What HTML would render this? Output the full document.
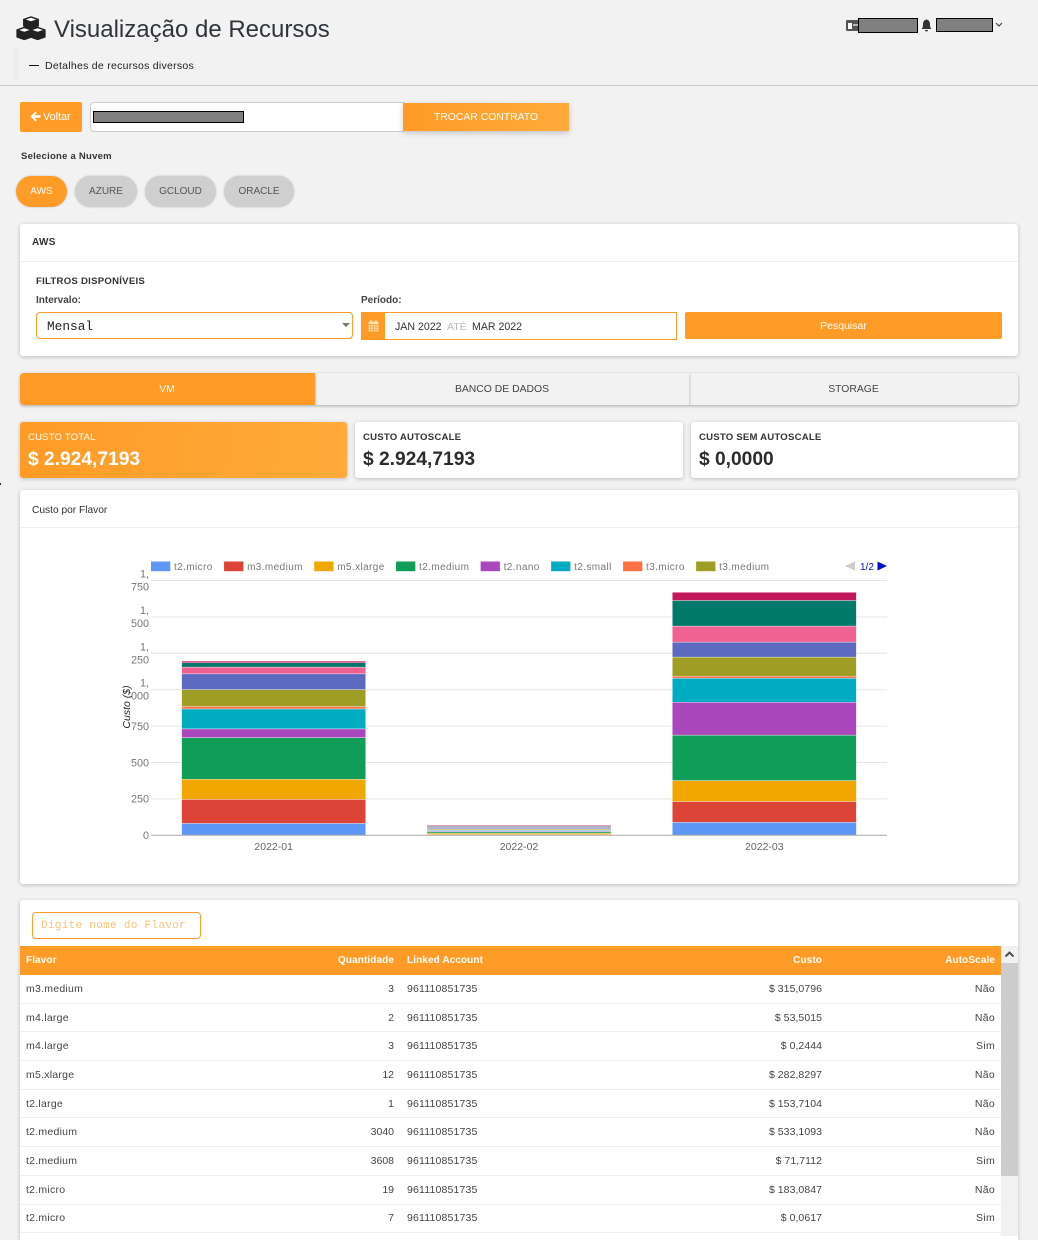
<!DOCTYPE html>
<html lang="pt">
<head>
<meta charset="utf-8">
<title>Visualização de Recursos</title>
<style>
html,body{margin:0;padding:0;}
body{width:1038px;height:1236px;overflow:hidden;background:#f2f2f2;position:relative;font-family:"Liberation Sans",Arial,sans-serif;color:#333;}
.a{position:absolute;box-sizing:border-box;}
.t{position:absolute;white-space:nowrap;line-height:14px;height:14px;}
.card{position:absolute;box-sizing:border-box;background:#fff;border-radius:3px;box-shadow:0 1px 4px rgba(0,0,0,.22);}
.redact{position:absolute;box-sizing:border-box;background:#808080;border:1px solid #000;}
.pill{position:absolute;box-sizing:border-box;top:176px;height:31px;border-radius:16px;background:#cfcfcf;color:#555;font-size:10px;line-height:32px;text-align:center;box-shadow:0 0 2px rgba(0,0,0,.2);}
.tab{position:absolute;box-sizing:border-box;top:373px;height:32px;line-height:33px;text-align:center;font-size:10.4px;color:#444;background:#f2f2f2;box-shadow:0 1px 3px rgba(0,0,0,.3);}
.lbl{font-size:9.6px;letter-spacing:.2px;font-weight:700;}
.val{font-size:19.2px;font-weight:700;color:#2c2c2c;}
.row{position:absolute;left:20px;width:981px;height:28.7px;border-bottom:1px solid #f0f0f0;font-size:10.5px;color:#444;box-sizing:border-box;}
.row span,.head span{position:absolute;top:50%;margin-top:-7px;line-height:14px;white-space:nowrap;}
.c1{left:6px;letter-spacing:.25px;}
.c2{right:607px;}
.c3{left:387px;letter-spacing:.17px;}
.c4{right:179px;letter-spacing:.05px;}
.c5{right:6px;letter-spacing:.3px;}
.head{position:absolute;left:20px;top:946px;width:981px;height:29px;background:#ff9b26;color:#fff;font-size:10px;font-weight:700;}
.head .c1,.head .c2,.head .c3,.head .c4,.head .c5{letter-spacing:.1px;}
</style>
</head>
<body>

<svg class="a" style="left:16px;top:16px" width="30" height="25" viewBox="0 0 27 25" preserveAspectRatio="none">
  <g stroke="#222" stroke-width="1.3" stroke-linejoin="round">
    <polygon points="13.5,1 20,3.5 20,10 13.5,12.5 7,10 7,3.5" fill="#222"/>
    <polygon points="7,3.5 13.5,1 20,3.5 13.5,6" fill="#fff"/>
    <polygon points="7.5,11.5 14,14 14,21 7.5,23.5 1,21 1,14" fill="#222"/>
    <polygon points="1,14 7.5,11.5 14,14 7.5,16.5" fill="#fff"/>
    <polygon points="19.5,11.5 26,14 26,21 19.5,23.5 13,21 13,14" fill="#222"/>
    <polygon points="13,14 19.5,11.5 26,14 19.5,16.5" fill="#fff"/>
  </g>
</svg>
<div class="t" style="left:54px;top:16px;height:28px;line-height:28px;font-size:24px;color:#2f353b">Visualização de Recursos</div>
<div class="a" style="left:14px;top:49px;width:4px;height:32px;background:#ececec"></div>
<div class="a" style="left:29px;top:65px;width:10px;height:1px;background:#111"></div>
<div class="t" style="left:45px;top:59px;font-size:10.5px;letter-spacing:.27px;color:#222">Detalhes de recursos diversos</div>

<svg class="a" style="left:846px;top:20px" width="13" height="11" viewBox="0 0 13 11">
  <rect x="0" y="0" width="13" height="11" rx="1" fill="#555"/>
  <rect x="2" y="3" width="4" height="6" fill="#fff"/>
  <rect x="7" y="4" width="5" height="2" fill="#bbb"/>
</svg>
<div class="redact" style="left:858px;top:18px;width:60px;height:15px"></div>
<svg class="a" style="left:921px;top:19px" width="11" height="13" viewBox="0 0 11 13">
  <path d="M5.5 0.5C3 1 2 3 2 5.5C2 8 1.5 9 .5 10H10.5C9.5 9 9 8 9 5.5C9 3 8 1 5.5 .5ZM4 11H7C7 13 4 13 4 11Z" fill="#333"/>
</svg>
<div class="redact" style="left:936px;top:18px;width:57px;height:14px"></div>
<svg class="a" style="left:995px;top:22px" width="8" height="6" viewBox="0 0 8 6">
  <polyline points="1,1 4,4 7,1" fill="none" stroke="#445" stroke-width="1.2"/>
</svg>
<div class="a" style="left:0;top:85px;width:1038px;height:1px;background:#ccc"></div>

<div class="a" style="left:20px;top:102px;width:62px;height:30px;background:#ff9b26;border-radius:2px">
  <svg class="a" style="left:10px;top:9px" width="11" height="11" viewBox="0 0 11 11"><path d="M5.5 .5L.5 5.5L5.5 10.5L6.8 9L4.4 6.7H10.5V4.3H4.4L6.8 2Z" fill="#fff"/></svg>
  <div class="t" style="left:23px;top:8px;font-size:10.8px;color:#fff">Voltar</div>
</div>
<div class="a" style="left:90px;top:102px;width:314px;height:30px;background:#fff;border:1px solid #ccc;border-radius:4px 0 0 4px"></div>
<div class="redact" style="left:93px;top:111px;width:151px;height:12px"></div>
<div class="a" style="left:403px;top:103px;width:166px;height:28px;background:linear-gradient(90deg,#ff9b26,#ffab3b);color:#fff;font-size:10.4px;line-height:30px;text-align:center;box-shadow:0 2px 6px rgba(0,0,0,.2)">TROCAR CONTRATO</div>

<div class="t" style="left:21px;top:150px;font-size:9.5px;font-weight:700;color:#333;letter-spacing:.25px">Selecione a Nuvem</div>
<div class="pill" style="left:16px;width:51px;background:#ff9b26;color:#fff">AWS</div>
<div class="pill" style="left:75px;width:62px">AZURE</div>
<div class="pill" style="left:145px;width:71px">GCLOUD</div>
<div class="pill" style="left:224px;width:70px">ORACLE</div>

<div class="card" style="left:20px;top:224px;width:998px;height:132px"></div>
<div class="t" style="left:32px;top:236px;font-size:10px;font-weight:700;letter-spacing:.3px">AWS</div>
<div class="a" style="left:20px;top:261px;width:998px;height:1px;background:#eee"></div>
<div class="t" style="left:36px;top:275px;font-size:9.6px;font-weight:700;letter-spacing:.25px">FILTROS DISPONÍVEIS</div>
<div class="t" style="left:36px;top:294px;font-size:10px;font-weight:700;color:#444">Intervalo:</div>
<div class="t" style="left:361px;top:294px;font-size:10px;font-weight:700;color:#444">Período:</div>
<div class="a" style="left:36px;top:312px;width:317px;height:27px;background:#fff;border:1px solid #ff9b26;border-radius:4px">
  <div class="t" style="left:10px;top:6.5px;font-family:'Liberation Mono',monospace;font-size:12.8px;color:#222">Mensal</div>
  <div class="a" style="left:305px;top:10px;width:0;height:0;border-left:4px solid transparent;border-right:4px solid transparent;border-top:4px solid #777"></div>
</div>
<div class="a" style="left:361px;top:312px;width:316px;height:28px;background:#fff;border:1px solid #ff9b26"></div>
<div class="a" style="left:361px;top:312px;width:24px;height:28px;background:#ff9b26">
  <svg class="a" style="left:7px;top:8px" width="11" height="12" viewBox="0 0 11 12">
    <rect x=".5" y="1.5" width="10" height="10" rx="1" fill="#ffe0b5"/>
    <path d="M.5 4.5H10.5M.5 7H10.5M.5 9.3H10.5M3 4.5V11.5M5.5 4.5V11.5M8 4.5V11.5" stroke="#ff9b26" stroke-width=".7"/>
    <rect x="2.3" y="0" width="1.3" height="3" fill="#ffe0b5"/><rect x="7.3" y="0" width="1.3" height="3" fill="#ffe0b5"/>
  </svg>
</div>
<div class="t" style="left:395px;top:319.5px;font-size:10.6px;color:#333">JAN 2022</div>
<div class="t" style="left:447px;top:319.5px;font-size:10.5px;color:#bbb">ATÉ</div>
<div class="t" style="left:472px;top:319.5px;font-size:10.6px;color:#333">MAR 2022</div>
<div class="a" style="left:685px;top:312px;width:317px;height:27px;background:#ff9b26;border-radius:2px;color:#fff;font-size:10.5px;line-height:29px;text-align:center">Pesquisar</div>

<div class="tab" style="left:689px;width:329px;border-radius:0 4px 4px 0">STORAGE</div>
<div class="tab" style="left:315px;width:374px">BANCO DE DADOS</div>
<div class="tab" style="left:20px;width:295px;background:#ff9b26;color:#fff;border-radius:4px 0 0 4px;padding-right:1px">VM</div>

<div class="card" style="left:20px;top:422px;width:327px;height:56px;background:linear-gradient(100deg,#ff9b26,#ffab3b)">
  <div class="t lbl" style="left:8px;top:9px;color:#fff;font-weight:400;letter-spacing:.15px">CUSTO TOTAL</div>
  <div class="t val" style="left:8px;top:31px;color:#fff">$ 2.924,7193</div>
</div>
<div class="card" style="left:355px;top:422px;width:328px;height:56px">
  <div class="t lbl" style="left:8px;top:9px">CUSTO AUTOSCALE</div>
  <div class="t val" style="left:8px;top:31px">$ 2.924,7193</div>
</div>
<div class="card" style="left:691px;top:422px;width:327px;height:56px">
  <div class="t lbl" style="left:8px;top:9px">CUSTO SEM AUTOSCALE</div>
  <div class="t val" style="left:8px;top:31px">$ 0,0000</div>
</div>
<div class="a" style="left:0;top:483px;width:1px;height:2px;background:#333"></div>

<div class="card" style="left:20px;top:490px;width:998px;height:394px"></div>
<div class="t" style="left:32px;top:504px;font-size:10.2px;color:#333">Custo por Flavor</div>
<div class="a" style="left:20px;top:527px;width:998px;height:1px;background:#eee"></div>
<svg id="chart" class="a" style="left:0;top:0" width="1038" height="900" viewBox="0 0 1038 900"></svg>

<div class="card" style="left:20px;top:900px;width:998px;height:340px;border-radius:3px 3px 0 0"></div>
<div class="a" style="left:32px;top:912px;width:169px;height:27px;border:1px solid #ff9b26;border-radius:4px;background:#fff;font-family:'Liberation Mono',monospace;font-size:11px;letter-spacing:.3px;color:#ffc078;line-height:27px;padding-left:8px">Digite nome do Flavor</div>
<div class="head">
  <span class="c1">Flavor</span>
  <span class="c2">Quantidade</span>
  <span class="c3">Linked Account</span>
  <span class="c4">Custo</span>
  <span class="c5">AutoScale</span>
</div>
<div class="row" style="top:975px"><span class="c1">m3.medium</span><span class="c2">3</span><span class="c3">961110851735</span><span class="c4">$ 315,0796</span><span class="c5">Não</span></div>
<div class="row" style="top:1003.7px"><span class="c1">m4.large</span><span class="c2">2</span><span class="c3">961110851735</span><span class="c4">$ 53,5015</span><span class="c5">Não</span></div>
<div class="row" style="top:1032.4px"><span class="c1">m4.large</span><span class="c2">3</span><span class="c3">961110851735</span><span class="c4">$ 0,2444</span><span class="c5">Sim</span></div>
<div class="row" style="top:1061.1px"><span class="c1">m5.xlarge</span><span class="c2">12</span><span class="c3">961110851735</span><span class="c4">$ 282,8297</span><span class="c5">Não</span></div>
<div class="row" style="top:1089.8px"><span class="c1">t2.large</span><span class="c2">1</span><span class="c3">961110851735</span><span class="c4">$ 153,7104</span><span class="c5">Não</span></div>
<div class="row" style="top:1118.5px"><span class="c1">t2.medium</span><span class="c2">3040</span><span class="c3">961110851735</span><span class="c4">$ 533,1093</span><span class="c5">Não</span></div>
<div class="row" style="top:1147.2px"><span class="c1">t2.medium</span><span class="c2">3608</span><span class="c3">961110851735</span><span class="c4">$ 71,7112</span><span class="c5">Sim</span></div>
<div class="row" style="top:1175.9px"><span class="c1">t2.micro</span><span class="c2">19</span><span class="c3">961110851735</span><span class="c4">$ 183,0847</span><span class="c5">Não</span></div>
<div class="row" style="top:1204.6px"><span class="c1">t2.micro</span><span class="c2">7</span><span class="c3">961110851735</span><span class="c4">$ 0,0617</span><span class="c5">Sim</span></div>

<div class="a" style="left:1001px;top:946px;width:17px;height:290px;background:#f1f1f1"></div>
<div class="a" style="left:1001px;top:963px;width:17px;height:213px;background:#cdcdcd"></div>
<svg class="a" style="left:1001px;top:946px" width="17" height="17" viewBox="0 0 17 17"><polyline points="4.5,10.5 8.5,6.5 12.5,10.5" fill="none" stroke="#505050" stroke-width="2"/></svg>

<script>
const categories = ['2022-01', '2022-02', '2022-03'];
const seriesNames = ['t2.micro', 'm3.medium', 'm5.xlarge', 't2.medium', 't2.nano', 't2.small', 't3.micro', 't3.medium', 't3.small', 't3.nano', 't2.large', 'm4.large'];
const t2Micro = [82, 2, 89];
const m3Medium = [165, 3, 143];
const m5Xlarge = [138, 10, 144];
const t2Medium = [286, 9, 312];
const t2Nano = [60, 6, 226];
const t2Small = [137, 6, 165];
const t3Micro = [17, 3, 14];
const t3Medium = [116, 7, 131];
const t3Small = [108, 8, 103];
const t3Nano = [46, 6, 110];
const t2Large = [30, 6, 176];
const m4Large = [11, 5, 56];
const seriesValues = [t2Micro, m3Medium, m5Xlarge, t2Medium, t2Nano, t2Small, t3Micro, t3Medium, t3Small, t3Nano, t2Large, m4Large];
const seriesColors = ['#5e97f6', '#db4437', '#f2a600', '#0f9d58', '#ab47bc', '#00acc1', '#ff7043', '#9e9d24', '#5c6bc0', '#f06292', '#00796b', '#c2185b'];
const yTicks = [0, 250, 500, 750, 1000, 1250, 1500, 1750];
const yTickLabels = ['0', '250', '500', '750', '1,000', '1,250', '1,500', '1,750'];
const legendVisibleCount = 8;

const SVG_NS = 'http://www.w3.org/2000/svg';
const svg = document.getElementById('chart');
const plotLeft = 151, plotRight = 887, plotBottom = 835.3, plotTop = 580.5, yMax = 1750;

function yScale(v) { return plotBottom - (v / yMax) * (plotBottom - plotTop); }
function bandWidth() { return (plotRight - plotLeft) / categories.length; }
function xCenter(i) { return plotLeft + bandWidth() * (i + 0.5); }

function make(tag, attrs, parent) {
  const el = document.createElementNS(SVG_NS, tag);
  for (const k in attrs) el.setAttribute(k, attrs[k]);
  (parent || svg).appendChild(el);
  return el;
}

yTicks.forEach(function (tick, i) {
  const y = yScale(tick);
  if (tick !== 0) {
    const grid = make('line', { x1: plotLeft, x2: plotRight, y1: y, y2: y, stroke: tick === 1000 ? '#efefef' : '#e6e6e6', 'stroke-width': tick === 1000 ? 1.6 : 1 });
    
    
  }
  const label = yTickLabels[i];
  const parts = label.split(',');
  const txt = make('text', { x: 149, y: y + 3.8, 'text-anchor': 'end', 'font-size': 10.8, fill: '#777' });
  
  
  if (parts.length > 1) {
    const a = make('tspan', { x: 149, y: y - 3 }, txt);
    a.textContent = parts[0] + ',';
    const b = make('tspan', { x: 149, y: y + 10 }, txt);
    b.textContent = parts[1];
  } else {
    txt.textContent = label;
  }
});

categories.forEach(function (cat, c) {
  const barW = bandWidth() * 0.75;
  let acc = 0;
  seriesValues.forEach(function (vals, s) {
    const top = yScale(acc + vals[c]);
    const bottom = yScale(acc);
    const r = make('rect', { x: xCenter(c) - barW / 2, y: top, width: barW, height: bottom - top, fill: seriesColors[s], stroke: '#ffffff', 'stroke-width': 0.5, 'stroke-opacity': 0.7 });
    
    
    acc += vals[c];
  });
  const xl = make('text', { x: xCenter(c), y: 850, 'text-anchor': 'middle', 'font-size': 10.5, fill: '#666' });
  xl.textContent = cat;
  
  
});

const baseline = make('line', { x1: plotLeft, x2: plotRight, y1: yScale(0), y2: yScale(0), stroke: '#aaa', 'stroke-width': 1 });



const yTitle = make('text', { transform: 'translate(130,707) rotate(-90)', 'text-anchor': 'middle', 'font-size': 10.5, 'font-style': 'italic', fill: '#222' });
yTitle.textContent = 'Custo ($)';



let legendX = plotLeft;
seriesNames.slice(0, legendVisibleCount).forEach(function (name, i) {
  const sw = make('rect', { x: legendX, y: 561.5, width: 19.3, height: 9.7, fill: seriesColors[i] });
  
  
  const lt = make('text', { x: legendX + 23, y: 570, 'font-size': 10, 'letter-spacing': 0.4, fill: '#777' });
  lt.textContent = name;
  
  
  legendX += 23 + lt.getComputedTextLength() + 11.3;
});

const prev = make('polygon', { points: '845,566 855,561.5 855,570.5', fill: '#ccc' });


const pageLabel = make('text', { x: 860, y: 570, 'font-size': 10, fill: '#0011cc' });
pageLabel.textContent = '1/2';


const next = make('polygon', { points: '887,566 877.5,561.5 877.5,570.5', fill: '#0011cc' });


</script>
</body>
</html>
